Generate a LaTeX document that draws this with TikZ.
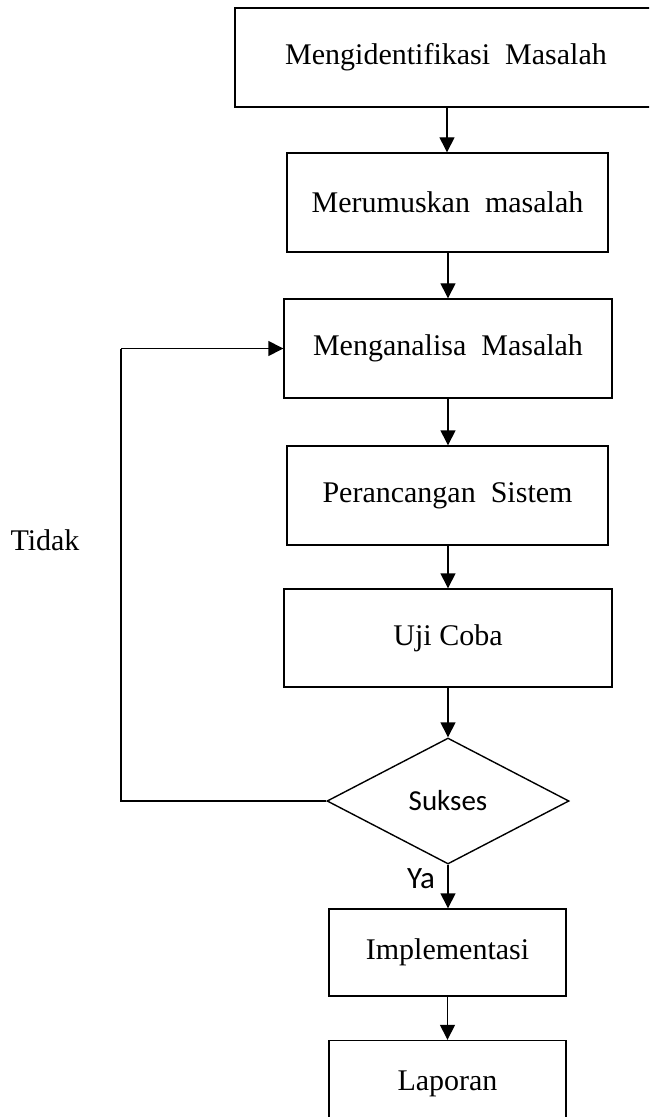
\documentclass[tikz,border=0pt]{standalone}
\usepackage{fontspec}
\setmainfont{Liberation Serif}
\newfontfamily\calibri{Carlito}
\usetikzlibrary{shapes.geometric,arrows.meta}
\tikzset{
  stepbox/.style={draw, line width=0.7pt, rectangle, inner sep=0pt, font=\fontsize{15}{18}\selectfont},
  decision/.style={draw, line width=0.7pt, diamond, inner sep=0pt, minimum width=121pt, minimum height=63pt, aspect=1.92, font=\calibri\fontsize{14.5}{17}\selectfont},
  flow/.style={line width=0.7pt, -{Triangle[width=7.5pt,length=7.5pt]}},
  plain/.style={line width=0.7pt}
}
\begin{document}
\begin{tikzpicture}[x=0.5pt,y=-0.5pt]
\useasboundingbox (0,0) rectangle (649,1117);
\clip (0,0) rectangle (649,1117);
\node[stepbox, minimum width=211pt, minimum height=49.5pt] (b1) at (446,57.5) {Mengidentifikasi\ \ Masalah};
\node[stepbox, minimum width=160.5pt, minimum height=49.5pt] (b2) at (447.5,202.5) {Merumuskan\ \ masalah};
\node[stepbox, minimum width=164pt, minimum height=49.5pt] (b3) at (448,348.5) {Menganalisa\ \ Masalah};
\node[stepbox, minimum width=160.5pt, minimum height=49.5pt] (b4) at (447.5,495.5) {Perancangan\ \ Sistem};
\node[stepbox, minimum width=164pt, minimum height=49pt] (b5) at (448,638) {Uji\ Coba};
\node[decision] (d) at (448,801) {Sukses};
\node[stepbox, minimum width=118.5pt, minimum height=43.5pt] (b6) at (447.5,952.5) {Implementasi};
\node[stepbox, minimum width=118.5pt, minimum height=43.5pt] (b7) at (447.5,1084) {Laporan};
\coordinate (lb) at (121,801);
\coordinate (lt) at (121,348.5);
\node[font=\fontsize{15}{18}\selectfont] (tidak) at (45,540) {Tidak};
\node[font=\calibri\fontsize{15.5}{18}\selectfont] (ya) at (421,879) {Ya};
\draw[flow] (b1.south -| 447,0) -- (b2.north -| 447,0);
\draw[flow] (b2.south -| 448,0) -- (b3.north -| 448,0);
\draw[flow] (b3.south -| 448,0) -- (b4.north -| 448,0);
\draw[flow] (b4.south -| 448,0) -- (b5.north -| 448,0);
\draw[flow] (b5.south) -- (d.north);
\draw[flow] (d.south) -- (b6.north -| d.south);
\draw[flow] (b6.south) -- (b7.north);
\draw[plain] (d.west) -- (lb) -- (lt);
\draw[flow] (lt) -- (b3.west);
\end{tikzpicture}
\end{document}
